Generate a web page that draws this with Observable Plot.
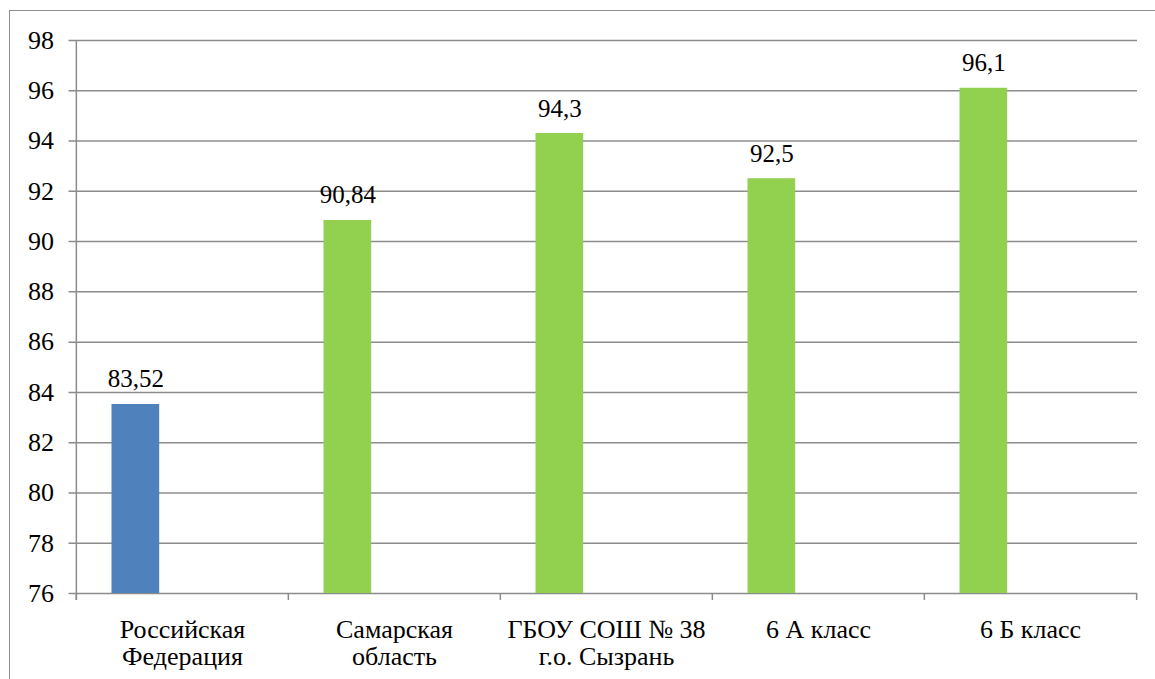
<!DOCTYPE html>
<html>
<head>
<meta charset="utf-8">
<script src="https://cdn.jsdelivr.net/npm/d3@7"></script>
<script src="https://cdn.jsdelivr.net/npm/@observablehq/plot@0.6"></script>
<style>
  html, body { margin: 0; padding: 0; background: #fff; }
  #wrap { position: relative; width: 1155px; height: 679px; overflow: hidden; font-family: "Liberation Serif", serif; }
  #frame { position: absolute; left: 9px; top: 10px; width: 1160px; height: 700px;
           border: 1.5px solid #8f8f8f; box-sizing: border-box; }
  #chart { position: absolute; left: 0; top: 0; }
  #pad { position: absolute; left: 1140px; top: 660px; font: 10px "Liberation Serif", serif; color: #fff; }
</style>
</head>
<body>
<div id="wrap"><div id="frame"></div><div id="chart"></div><div id="pad">.</div></div>
<script>
// Data
const categories = ["Российская\nФедерация", "Самарская\nобласть", "ГБОУ СОШ № 38\nг.о. Сызрань", "6 А класс", "6 Б класс"];
const values = [83.52, 90.84, 94.3, 92.5, 96.1];
const valueLabels = ["83,52", "90,84", "94,3", "92,5", "96,1"];
const yTicks = [76, 78, 80, 82, 84, 86, 88, 90, 92, 94, 96, 98];
const yMin = 76, yMax = 98;

const data = categories.map((c, i) => ({cat: c, value: values[i], label: valueLabels[i], idx: i}));

// Styles
const BLUE = "#4F81BD", GREEN = "#92D050", GRID = "#8c8c8c";
const FONT = "Liberation Serif";
const W = 1155, H = 679;
const mL = 75.5, mR = 18, mT = 40, mB = 86;
const band = (W - mL - mR) / categories.length;
const barOffset = 35.5, barWidth = 48;

const chart = Plot.plot({
  width: W, height: H,
  marginLeft: mL, marginRight: mR, marginTop: mT, marginBottom: mB,
  style: {fontFamily: FONT, fontSize: "26px"},
  x: {type: "band", domain: categories, padding: 0},
  y: {domain: [yMin, yMax]},
  marks: [
    // gridlines, extended 7px left to form the y tick marks
    Plot.gridY(yTicks, {stroke: GRID, strokeOpacity: 1, strokeWidth: 1.5, insetLeft: -7}),
    Plot.axisY(yTicks, {tickSize: 0, tickPadding: 22, fontSize: 26, label: null, tickFormat: d => String(d)}),
    Plot.barY(data, {x: "cat", y1: yMin, y2: "value",
      fill: d => d.idx === 0 ? BLUE : GREEN,
      insetLeft: barOffset, insetRight: band - barOffset - barWidth}),
    // left axis line (extends as first category tick)
    Plot.ruleX([categories[0]], {dx: -band / 2, y1: yMax, y2: yMin, insetBottom: -7, stroke: GRID, strokeWidth: 1.5}),
    // category boundary ticks
    Plot.ruleX(categories, {dx: -band / 2, y1: yMin, y2: yMin, insetBottom: -7, stroke: GRID, strokeWidth: 1.5}),
    Plot.ruleX([categories[categories.length - 1]], {dx: band / 2, y1: yMin, y2: yMin, insetBottom: -7, stroke: GRID, strokeWidth: 1.5}),
    // value labels
    Plot.text(data, {x: "cat", y: "value", text: "label", dx: barOffset + barWidth / 2 - band / 2, dy: -25, fontSize: 25}),
    Plot.axisX({tickSize: 0, tickPadding: 25, fontSize: 26, lineHeight: 1.05, label: null})
  ]
});
document.getElementById("chart").appendChild(chart);
</script>
</body>
</html>
